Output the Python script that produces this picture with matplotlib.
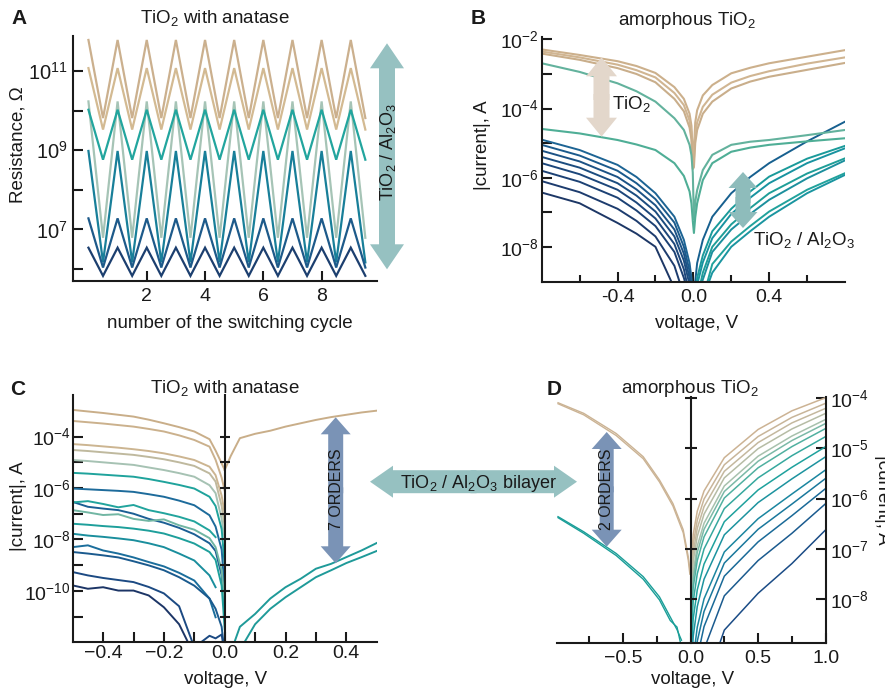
import numpy as np
import matplotlib
matplotlib.use("Agg")
import matplotlib.pyplot as plt
from matplotlib.patches import FancyArrow
from matplotlib.ticker import NullLocator
from matplotlib.colors import LinearSegmentedColormap

plt.rcParams.update({
    "font.family": ["Liberation Sans", "DejaVu Sans"],
    "mathtext.fontset": "custom",
    "mathtext.rm": "Liberation Sans",
    "mathtext.it": "Liberation Sans:italic",
    "mathtext.bf": "Liberation Sans:bold",
    "mathtext.default": "regular",
    "text.color": "#1a1a1a",
})

W, H = 885, 691
nan = np.nan

# ============================== data ==============================
# A: log10(R / Ohm); high state at whole cycles, low state at half cycles
CYCLE = [0.0, 0.5, 1.0, 1.5, 2.0, 2.5, 3.0, 3.5, 4.0, 4.5,
         5.0, 5.5, 6.0, 6.5, 7.0, 7.5, 8.0, 8.5, 9.0, 9.5]
A_HIGH = [11.78, 11.07, 10.23, 10.02, 8.98, 7.28, 6.54]
A_LOW = [9.81, 9.52, 6.79, 8.76, 6.17, 6.04, 5.83]
A_COLORS = ["#cbb08e", "#d3ba92", "#a6c4b6", "#22a59e", "#187f99", "#1d5a8a", "#1c3f6f"]

# B: amorphous TiO2, log10(|I| / A)
B_V_NEG = [-0.8, -0.6, -0.4, -0.3, -0.2, -0.1, -0.05, -0.02, -0.01, -0.003]
B_V_POS = [0.003, 0.01, 0.02, 0.05, 0.1, 0.2, 0.3, 0.4, 0.6, 0.8]
B_TAN_NEG = [[-2.29, -2.45, -2.63, -2.77, -2.97, -3.38, -3.72, -4.15, -4.50, -5.30],
             [-2.35, -2.52, -2.73, -2.89, -3.10, -3.55, -3.90, -4.35, -4.70, -5.55],
             [-2.41, -2.59, -2.83, -3.00, -3.24, -3.72, -4.08, -4.55, -4.90, -5.75]]
B_TAN_POS = [[-5.20, -4.40, -4.05, -3.62, -3.32, -2.98, -2.82, -2.69, -2.50, -2.31],
             [-5.45, -4.75, -4.40, -3.95, -3.60, -3.25, -3.06, -2.92, -2.70, -2.52],
             [-5.70, -5.00, -4.62, -4.15, -3.80, -3.42, -3.22, -3.08, -2.88, -2.68]]
B_GREEN_NEG = [[-2.69, -2.94, -3.27, -3.50, -3.80, -4.28, -4.62, -5.05, -5.35, -5.85],
               [-4.59, -4.72, -4.91, -5.04, -5.20, -5.58, -5.95, -6.40, -6.75, -7.25]]
B_GREEN_POS = [[-7.20, -6.70, -6.36, -5.78, -5.34, -5.05, -4.96, -4.91, -4.77, -4.62],
               [-7.60, -7.15, -6.74, -6.07, -5.58, -5.25, -5.13, -5.05, -4.95, -4.86]]
B_BLUE_NEG = [[-4.90, -5.20, -5.63, -5.98, -6.45, -7.13, -7.80, -8.47, -8.90, -9.5],
              [-5.05, -5.36, -5.80, -6.16, -6.62, -7.30, -8.00, -8.70, -9.20, -9.5],
              [-5.22, -5.53, -5.98, -6.34, -6.80, -7.50, -8.20, -8.90, -9.5, -9.5],
              [-5.40, -5.71, -6.16, -6.52, -6.98, -7.70, -8.40, -9.10, -9.5, -9.5],
              [-5.58, -5.90, -6.35, -6.72, -7.18, -7.92, -8.65, -9.40, -9.5, -9.5],
              [-5.80, -6.12, -6.58, -6.95, -7.40, -8.15, -8.90, -9.5, -9.5, -9.5],
              [-6.10, -6.42, -6.90, -7.25, -7.70, -8.55, -9.40, -9.5, -9.5, -9.5],
              [-6.43, -6.74, -7.31, -7.62, -8.00, -9.20, -9.5, -9.5, -9.5, -9.5]]
B_BLUE_POS = [[-9.5, -9.00, -8.47, -7.80, -7.13, -6.45, -5.98, -5.58, -4.95, -4.38],
              [-9.5, -9.5, -8.90, -8.25, -7.55, -6.90, -6.40, -5.97, -5.45, -5.08],
              [-9.5, -9.5, -9.10, -8.45, -7.75, -7.05, -6.58, -6.16, -5.58, -5.15],
              [-9.5, -9.5, -9.5, -8.75, -8.00, -7.35, -6.88, -6.45, -5.88, -5.44],
              [-9.5, -9.5, -9.5, -8.95, -8.15, -7.50, -7.05, -6.64, -6.02, -5.50],
              [-9.5, -9.5, -9.5, -9.5, -8.50, -7.85, -7.40, -6.98, -6.35, -5.87],
              [-9.5, -9.5, -9.5, -9.5, -8.75, -8.00, -7.55, -7.13, -6.45, -5.92]]
B_TAN_COLORS = ["#ccb08c", "#d0b592", "#c9ae8b"]
B_GREEN_COLORS = ["#63b29d", "#4fae96"]
B_BLUE_NEG_COLORS = ["#1d6494", "#1b5a8c", "#1c5285", "#1b4c7f",
                     "#1c467a", "#1c4174", "#1d3c6e", "#1d3766"]
B_BLUE_POS_COLORS = ["#17608f", "#1a9a9a", "#1893a0", "#1f9e98",
                     "#1c8f9d", "#21a29c", "#1a95a0"]

# C: TiO2 with anatase, log10(|I| / A)
C_V_NEG = [-0.5, -0.45, -0.4, -0.35, -0.3, -0.25, -0.2, -0.15, -0.1, -0.05, -0.03, -0.01, 0.0]
C_NEG = [
    [-2.96, -3.02, -3.08, -3.15, -3.22, -3.34, -3.48, -3.63, -3.80, -4.10, -4.54, -5.04, -5.30],
    [-3.39, -3.44, -3.49, -3.55, -3.61, -3.70, -3.80, -3.95, -4.13, -4.39, -4.90, -5.60, -6.10],
    [-4.29, -4.33, -4.38, -4.43, -4.49, -4.56, -4.65, -4.77, -4.91, -5.17, -5.50, -6.30, -7.00],
    [-4.52, -4.56, -4.61, -4.66, -4.71, -4.79, -4.88, -5.00, -5.14, -5.43, -5.75, -6.70, -7.50],
    [-4.91, -4.95, -5.00, -5.05, -5.10, -5.20, -5.30, -5.42, -5.56, -5.89, -6.20, -7.20, -8.00],
    [-5.41, -5.44, -5.48, -5.52, -5.56, -5.65, -5.76, -5.88, -6.02, -6.34, -6.70, -7.60, -9.00],
    [-6.02, -6.05, -6.08, -6.11, -6.15, -6.24, -6.34, -6.49, -6.67, -7.06, -7.50, -8.40, -10.0],
    [-6.54, -6.73, -6.80, -6.86, -7.00, -7.20, -7.35, -7.55, -7.80, -8.15, -8.45, -9.40, -11.0],
    [-6.56, -6.51, -6.62, -6.75, -6.66, -6.86, -6.98, -7.12, -7.30, -7.65, -7.91, nan, nan],
    [-6.86, -6.95, -7.05, -7.02, -7.20, -7.28, -7.22, -7.45, -7.62, -7.95, -8.30, -9.20, -10.5],
    [-7.39, -7.43, -7.48, -7.52, -7.58, -7.66, -7.77, -7.95, -8.16, -8.49, -8.80, -9.80, -11.5],
    [-7.78, -7.85, -7.90, -7.96, -8.03, -8.15, -8.30, -8.55, -8.82, -9.40, -9.86, nan, nan],
    [-8.30, -8.23, -8.43, -8.55, -8.70, -8.88, -9.05, -9.30, -9.60, -10.30, -11.03, nan, nan],
    [-8.49, -8.55, -8.62, -8.70, -8.85, -9.01, -9.20, -9.47, -9.80, -10.30, -10.70, -11.40, -12.5],
    [-9.27, -9.40, -9.50, -9.58, -9.66, -9.85, -10.10, -10.60, -12.20, -11.75, -11.85, -11.70, -12.5],
    [-9.79, -9.92, -9.86, -9.99, -9.99, -10.18, -10.64, -11.30, -12.5, nan, nan, nan, nan],
]
C_COLORS = ["#c9ae89", "#cbb18d", "#ccb591", "#bfb99e", "#a6c2b3", "#1fa39c",
            "#1d6b9b", "#1b5f94", "#22a49d", "#71b6a3", "#1e9f9b", "#1a8e9d",
            "#1b6e9c", "#1a5a8e", "#1c4a83", "#1c3566"]
C_V_POS = [0.0, 0.02, 0.05, 0.1, 0.15, 0.2, 0.25, 0.3, 0.35, 0.4, 0.45, 0.5]
C_TAN_POS = [-5.30, -4.75, -4.06, -3.89, -3.77, -3.61, -3.48, -3.35, -3.24, -3.15, -3.06, -2.99]
C_TEAL_POS = [[nan, -12.4, -11.4, -10.9, -10.3, -9.86, -9.53, -9.14, -8.95, -8.69, -8.43, -8.14],
              [nan, nan, -12.3, -11.3, -10.7, -10.25, -9.86, -9.47, -9.20, -8.92, -8.69, -8.45]]

# D: amorphous TiO2 / Al2O3, log10(|I| / A)
D_V_NEG_TAN = [-0.98, -0.79, -0.55, -0.35, -0.23, -0.13, -0.054, -0.017, -0.005]
D_TAN_NEG = [[-4.10, -4.31, -4.71, -5.17, -5.63, -6.10, -6.62, -7.15, -7.40],
             [-4.12, -4.34, -4.75, -5.21, -5.67, -6.15, -6.68, -7.22, -7.50]]
D_V_NEG_TEAL = [-0.98, -0.79, -0.55, -0.35, -0.23, -0.15, -0.1, -0.067]
D_TEAL_NEG = [[-6.36, -6.66, -7.09, -7.55, -7.95, -8.35, -8.60, -8.81],
              [-6.38, -6.69, -7.13, -7.60, -8.01, -8.42, -8.55, -8.95]]
D_V_POS = [0.005, 0.02, 0.05, 0.1, 0.25, 0.5, 0.75, 1.0]
D_POS = [
    [-7.30, -6.71, -6.25, -5.85, -5.19, -4.63, -4.26, -4.00],
    [-7.50, -6.90, -6.43, -6.01, -5.33, -4.77, -4.39, -4.11],
    [-7.69, -7.07, -6.59, -6.16, -5.46, -4.89, -4.50, -4.21],
    [-7.87, -7.24, -6.75, -6.31, -5.59, -5.01, -4.62, -4.31],
    [-8.09, -7.45, -6.94, -6.49, -5.75, -5.16, -4.76, -4.43],
    [-8.24, -7.59, -7.07, -6.61, -5.86, -5.26, -4.85, -4.51],
    [-8.42, -7.76, -7.23, -6.76, -5.99, -5.39, -4.97, -4.61],
    [-8.72, -8.04, -7.49, -7.00, -6.20, -5.59, -5.15, -4.77],
    [-9.08, -8.38, -7.81, -7.30, -6.46, -5.83, -5.38, -4.97],
    [-9.45, -8.73, -8.14, -7.60, -6.72, -6.08, -5.61, -5.17],
    [-9.93, -9.18, -8.55, -7.99, -7.06, -6.40, -5.91, -5.43],
    [-10.24, -9.47, -8.83, -8.24, -7.28, -6.61, -6.11, -5.60],
    [-10.61, -9.82, -9.15, -8.54, -7.54, -6.86, -6.34, -5.80],
    [-11.16, -10.33, -9.63, -8.99, -7.93, -7.23, -6.69, -6.10],
    [-12.12, -11.23, -10.47, -9.77, -8.61, -7.88, -7.29, -6.62],
]
D_TAN_COLOR = "#cbb394"
D_TEAL_COLOR = "#1a9e98"
D_CMAP = LinearSegmentedColormap.from_list(
    "d", ["#ccb394", "#c4b89e", "#a7c1ad", "#4fb0a0", "#1fa19d", "#1b86a0", "#1a6a98", "#1b4c86"])
# ===============================================================

INK = "#1a1a1a"
fig = plt.figure(figsize=(W / 100, H / 100), dpi=100, facecolor="white")


def px_axes(left, top, right, bottom, **kw):
    return fig.add_axes([left / W, 1 - bottom / H, (right - left) / W, (bottom - top) / H], **kw)


def style(ax):
    ax.patch.set_visible(False)
    for s in ("top", "right"):
        ax.spines[s].set_visible(False)
    for s in ax.spines.values():
        s.set_linewidth(1.5)
        s.set_color(INK)
    ax.tick_params(which="both", direction="in", width=1.5, color=INK, labelsize=14, labelcolor=INK)
    ax.tick_params(which="major", length=7)
    ax.tick_params(which="minor", length=5)


def log_ticks(ax, exps, labelled):
    ax.set_yticks([10.0 ** e for e in exps],
                  labels=[f"$10^{{{e}}}$" if e in labelled else "" for e in exps])
    ax.yaxis.set_minor_locator(NullLocator())


def center_axis(ax, exps, length):
    c = fig.add_axes(ax.get_position())
    c.patch.set_visible(False)
    c.set_xlim(ax.get_xlim())
    c.set_yscale("log")
    c.set_ylim(ax.get_ylim())
    for s in ("top", "right", "bottom"):
        c.spines[s].set_visible(False)
    c.spines["left"].set_position(("data", 0))
    c.spines["left"].set_linewidth(1.5)
    c.spines["left"].set_color(INK)
    c.xaxis.set_visible(False)
    c.set_yticks([10.0 ** e for e in exps])
    c.yaxis.set_minor_locator(NullLocator())
    c.tick_params(axis="y", direction="inout", length=length, width=1.5, color=INK, labelleft=False)
    return c


# ---------------- A ----------------
axA = px_axes(73, 36, 377, 281)
style(axA)
axA.set_yscale("log")
cyc = np.array(CYCLE)
is_high = cyc % 1 == 0
for hi, lo, c in zip(A_HIGH, A_LOW, A_COLORS):
    axA.plot(cyc, 10.0 ** np.where(is_high, hi, lo), color=c, lw=1.6, solid_joinstyle="miter")
axA.set_xlim(-0.53, 9.9)
axA.set_ylim(10 ** 5.7, 10 ** 11.88)
axA.set_xticks([2, 4, 6, 8])
log_ticks(axA, [6, 7, 8, 9, 10, 11], [7, 9, 11])
axA.tick_params(axis="y", pad=4, labelsize=14.5)
axA.tick_params(axis="x", pad=5)

# ---------------- B ----------------
axB = px_axes(541.7, 37, 845, 281.7)
style(axB)
axB.set_yscale("log")
for neg, pos, c in zip(B_TAN_NEG, B_TAN_POS, B_TAN_COLORS):
    axB.plot(B_V_NEG + B_V_POS, 10.0 ** np.array(neg + pos), color=c, lw=1.5)
for neg, c in zip(B_BLUE_NEG, B_BLUE_NEG_COLORS):
    axB.plot(B_V_NEG, 10.0 ** np.array(neg), color=c, lw=1.4)
for pos, c in zip(B_BLUE_POS, B_BLUE_POS_COLORS):
    axB.plot(B_V_POS, 10.0 ** np.array(pos), color=c, lw=1.4)
for neg, pos, c in zip(B_GREEN_NEG, B_GREEN_POS, B_GREEN_COLORS):
    axB.plot(B_V_NEG + B_V_POS, 10.0 ** np.array(neg + pos), color=c, lw=1.5)
axB.set_xlim(-0.8, 0.8)
axB.set_ylim(10 ** -9.01, 10 ** -1.93)
axB.set_xticks([-0.4, 0.0, 0.4], labels=["-0.4", "0.0", "0.4"])
axB.set_xticks([-0.6, -0.2, 0.2, 0.6], minor=True)
log_ticks(axB, [-8, -7, -6, -5, -4, -3, -2], [-8, -6, -4, -2])
axB.tick_params(axis="y", pad=2)
axB.tick_params(axis="x", pad=5)

# ---------------- C ----------------
axC = px_axes(72.7, 395, 376.7, 641.7)
style(axC)
axC.set_yscale("log")
for vals, c in zip(C_NEG, C_COLORS):
    axC.plot(C_V_NEG, 10.0 ** np.array(vals), color=c, lw=1.4)
axC.plot(C_V_POS, 10.0 ** np.array(C_TAN_POS), color=C_COLORS[0], lw=1.4)
for vals in C_TEAL_POS:
    axC.plot(C_V_POS, 10.0 ** np.array(vals), color="#1f9a99", lw=1.4)
axC.set_xlim(-0.5, 0.5)
axC.set_ylim(10 ** -11.98, 10 ** -2.38)
axC.set_xticks([-0.4, -0.2, 0.0, 0.2, 0.4], labels=["\u22120.4", "\u22120.2", "0.0", "0.2", "0.4"])
axC.set_xticks([-0.3, -0.1, 0.1, 0.3], minor=True)
axC.tick_params(axis="x", which="minor", length=7)
log_ticks(axC, [-11, -10, -9, -8, -7, -6, -5, -4], [-10, -8, -6, -4])
axC.tick_params(axis="y", pad=1.5)
axC.tick_params(axis="x", pad=2.5)
center_axis(axC, [-11, -10, -9, -8, -7, -6, -5, -4], 7)

# ---------------- D ----------------
axD = px_axes(556.7, 396.7, 825.7, 642.7)
style(axD)
axD.spines["left"].set_visible(False)
axD.spines["right"].set_visible(True)
axD.yaxis.tick_right()
axD.set_yscale("log")
for vals in D_TAN_NEG:
    axD.plot(D_V_NEG_TAN, 10.0 ** np.array(vals), color=D_TAN_COLOR, lw=1.0)
for vals in D_TEAL_NEG:
    axD.plot(D_V_NEG_TEAL, 10.0 ** np.array(vals), color=D_TEAL_COLOR, lw=1.0)
n = len(D_POS)
for i, vals in enumerate(D_POS):
    axD.plot(D_V_POS, 10.0 ** np.array(vals), color=D_CMAP(i / (n - 1)), lw=1.1)
axD.set_xlim(-0.99, 1.0)
axD.set_ylim(10 ** -8.86, 10 ** -3.98)
axD.set_xticks([-0.5, 0.0, 0.5, 1.0], labels=["\u22120.5", "0.0", "0.5", "1.0"])
axD.set_xticks([-0.75, -0.25, 0.25, 0.75], minor=True)
log_ticks(axD, [-8, -7, -6, -5, -4], [-8, -7, -6, -5, -4])
axD.tick_params(axis="y", left=False, right=True, labelleft=False, labelright=True, pad=3)
axD.tick_params(axis="x", pad=5)
center_axis(axD, [-8, -7, -6, -5, -4], 8)

# ---------------- overlay: arrows and text in pixel coordinates ----------------
ov = fig.add_axes([0, 0, 1, 1], zorder=10)
ov.set_xlim(0, W)
ov.set_ylim(H, 0)
ov.axis("off")


def double_arrow(x0, y0, x1, y1, body, head, head_len, color):
    xm, ym = (x0 + x1) / 2, (y0 + y1) / 2
    for xa, ya in ((x0, y0), (x1, y1)):
        d = np.hypot(xa - xm, ya - ym)
        sx, sy = xm - 3 * (xa - xm) / d, ym - 3 * (ya - ym) / d
        ov.add_patch(FancyArrow(sx, sy, xa - sx, ya - sy, width=body, head_width=head,
                                head_length=head_len, length_includes_head=True,
                                fc=color, ec="none", lw=0))


double_arrow(387, 43.3, 387, 269.3, 16, 34, 25, "#96c1c1")
double_arrow(601.5, 57.3, 601.5, 136.7, 16, 31, 19, "#e3d7cb")
double_arrow(743, 172, 743, 228, 15, 29, 16, "#8ebcbb")
double_arrow(370, 481.7, 577, 481.7, 23, 32, 23, "#96c1c1")
double_arrow(335.7, 417.3, 335.7, 563.3, 15, 30, 17, "#7a93b6")
double_arrow(606.7, 432, 606.7, 546.7, 14, 30, 17, "#7a93b6")

T = dict(color=INK)
# panel letters
for s, x, y in (("A", 19.5, 24.3), ("B", 478, 24.3), ("C", 17.5, 395), ("D", 554, 395)):
    ov.text(x, y, s, ha="center", va="baseline", fontsize=15, fontweight="bold", **T)
# titles
ov.text(215, 23.3, "TiO$_2$ with anatase", ha="center", va="baseline", fontsize=13.5, **T)
ov.text(687.5, 25, "amorphous TiO$_2$", ha="center", va="baseline", fontsize=13.5, **T)
ov.text(225, 392.7, "TiO$_2$ with anatase", ha="center", va="baseline", fontsize=13.5, **T)
ov.text(690, 393.3, "amorphous TiO$_2$", ha="center", va="baseline", fontsize=13.5, **T)
# axis labels
ov.text(18.3, 145, "Resistance, \u03a9", ha="center", va="center", rotation=90, fontsize=13.5, **T)
ov.text(230, 328, "number of the switching cycle", ha="center", va="baseline", fontsize=13.5, **T)
ov.text(482.5, 145, "|current|, A", ha="center", va="center", rotation=90, fontsize=13.5, **T)
ov.text(697, 328, "voltage, V", ha="center", va="baseline", fontsize=13.5, **T)
ov.text(18.3, 506, "|current|, A", ha="center", va="center", rotation=90, fontsize=13.5, **T)
ov.text(226, 684, "voltage, V", ha="center", va="baseline", fontsize=13.5, **T)
ov.text(692.5, 684, "voltage, V", ha="center", va="baseline", fontsize=13.5, **T)
# the reference shows this label running off the right edge of the figure
ov.text(882, 500, "|current|, A", ha="center", va="center", rotation=270, fontsize=13.5, **T)
# arrow labels
ov.text(388, 152, "TiO$_2$ / Al$_2$O$_3$", ha="center", va="center", rotation=90, fontsize=13, **T)
ov.text(611.7, 109.3, "TiO$_2$", ha="left", va="baseline", fontsize=13.5, **T)
ov.text(753, 245, "TiO$_2$ / Al$_2$O$_3$", ha="left", va="baseline", fontsize=13.5, **T)
ov.text(400, 488.3, "TiO$_2$ / Al$_2$O$_3$ bilayer", ha="left", va="baseline", fontsize=13, **T)
ov.text(336.5, 489.5, "7 ORDERS", ha="center", va="center", rotation=90, fontsize=11.5, **T)
ov.text(606.7, 489.5, "2 ORDERS", ha="center", va="center", rotation=90, fontsize=11.5, **T)

fig.savefig("out.png", dpi=100, facecolor="white")
